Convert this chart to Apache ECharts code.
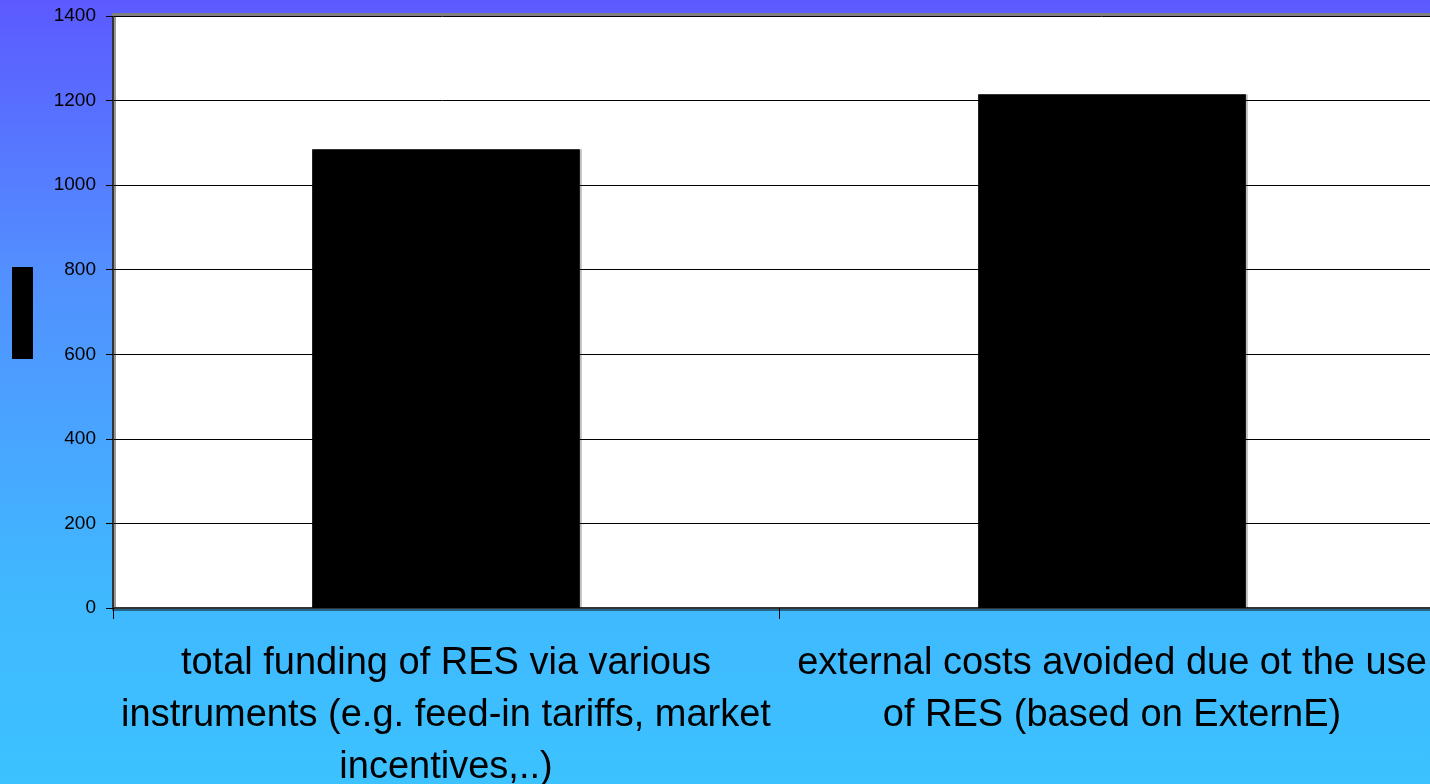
<!DOCTYPE html>
<html>
<head>
<meta charset="utf-8">
<script src="https://cdn.jsdelivr.net/npm/echarts@6/dist/echarts.min.js"></script>
<style>
  html, body { margin: 0; padding: 0; }
  #chart { width: 1430px; height: 784px; }
</style>
</head>
<body>
<div id="chart"></div>
<script>
// Category labels (line breaks as they wrap under each bar)
const categories = [
  'total funding of RES via various\ninstruments (e.g. feed-in tariffs, market\nincentives,..)',
  'external costs avoided due ot the use\nof RES (based on ExternE)'
];
// Bar values
const values = [1085, 1215];
// Value axis range
const yMin = 0;
const yMax = 1400;
const yStep = 200;

const chart = echarts.init(document.getElementById('chart'), null, { renderer: 'canvas' });
const fontFamily = '"Liberation Sans", Arial, Helvetica, sans-serif';

chart.setOption({
  animation: false,
  backgroundColor: {
    type: 'linear', x: 0, y: 0, x2: 0, y2: 1,
    colorStops: [
      { offset: 0, color: '#5c5aff' },
      { offset: 0.35, color: '#5290ff' },
      { offset: 0.75, color: '#40b8ff' },
      { offset: 1, color: '#3cc2ff' }
    ]
  },
  grid: {
    left: 113,
    top: 16,
    width: 1332,
    height: 592,
    outerBoundsMode: 'none',
    containLabel: false,
    show: true,
    backgroundColor: '#ffffff',
    borderWidth: 0
  },
  graphic: [
    {
      type: 'rect',
      left: 12,
      top: 267,
      shape: { width: 21, height: 92 },
      style: { fill: '#000000' },
      silent: true
    }
  ],
  xAxis: [
    {
      type: 'category',
      data: categories,
      position: 'bottom',
      axisLine: {
        show: true,
        lineStyle: {
          color: '#333333', width: 2,
          shadowColor: 'rgba(0,0,0,0.45)', shadowOffsetY: 2, shadowBlur: 0
        }
      },
      axisTick: {
        show: true, length: 11, alignWithLabel: false,
        lineStyle: { color: '#000000', width: 1 }
      },
      axisLabel: {
        interval: 0,
        margin: 30,
        color: '#000000',
        fontSize: 38,
        lineHeight: 52,
        fontFamily: fontFamily,
        align: 'center'
      },
      splitLine: { show: false }
    },
    {
      type: 'category',
      data: categories,
      position: 'top',
      offset: 1.5,
      axisLine: { show: true, lineStyle: { color: '#808080', width: 3 } },
      axisTick: { show: false },
      axisLabel: { show: false },
      splitLine: { show: false }
    }
  ],
  yAxis: {
    type: 'value',
    min: yMin,
    max: yMax,
    interval: yStep,
    axisLine: {
      show: true,
      lineStyle: {
        color: '#333333', width: 2,
        shadowColor: 'rgba(0,0,0,0.4)', shadowOffsetX: 2, shadowBlur: 0
      }
    },
    axisTick: {
      show: true, length: 7,
      lineStyle: { color: '#000000', width: 1 }
    },
    axisLabel: {
      margin: 17,
      color: '#000000',
      fontSize: 19,
      fontFamily: fontFamily,
      formatter: function (v) { return String(v); }
    },
    splitLine: {
      show: true,
      lineStyle: { color: '#000000', width: 1 }
    }
  },
  series: [
    {
      type: 'bar',
      data: values,
      xAxisIndex: 0,
      barWidth: '40.2%',
      itemStyle: {
        color: '#000000',
        shadowColor: 'rgba(0,0,0,0.25)',
        shadowOffsetX: 2,
        shadowBlur: 0
      }
    }
  ]
});
</script>
</body>
</html>
